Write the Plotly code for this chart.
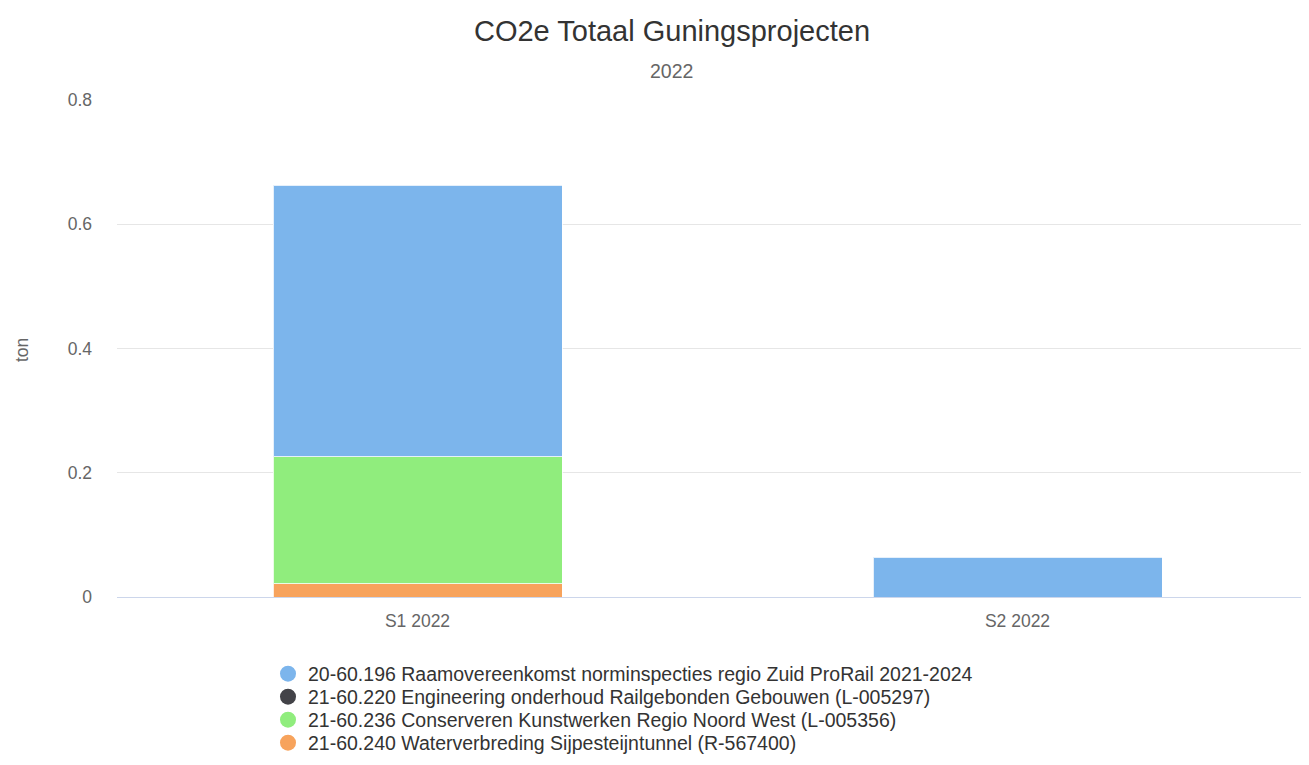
import plotly.graph_objects as go

categories = ["S1 2022", "S2 2022"]
series_names = [
    "20-60.196 Raamovereenkomst norminspecties regio Zuid ProRail 2021-2024",
    "21-60.220 Engineering onderhoud Railgebonden Gebouwen (L-005297)",
    "21-60.236 Conserveren Kunstwerken Regio Noord West (L-005356)",
    "21-60.240 Waterverbreding Sijpesteijntunnel (R-567400)",
]
series_values = [
    [0.437, 0.064],
    [0.0, 0.0],
    [0.205, 0.0],
    [0.021, 0.0],
]
colors = ["#7cb5ec", "#434348", "#90ed7d", "#f7a35c"]
y_ticks = [0, 0.2, 0.4, 0.6, 0.8]
y_tick_labels = ["0", "0.2", "0.4", "0.6", "0.8"]

# page has an 8px body margin; figure sized to fill the rest of the window
OFF = 8
W, H = 1309 - OFF, 765 - OFF
ML, MR, MT, MB = 117 - OFF, 0, 100 - OFF, 765 - 597
PW, PH = W - ML - MR, H - MT - MB
PLOT_BOTTOM = H - MB  # figure pixels


def py(page_y):
    """page pixel y -> paper y"""
    return (PLOT_BOTTOM - (page_y - OFF)) / PH


def px(page_x):
    """page pixel x -> paper x"""
    return ((page_x - OFF) - ML) / PW


# category spacing of the reference: 600 px per category, first centre at 417.5
cat_px = 600.0
x0 = -(417.5 - 117) / cat_px
x_range = [x0, x0 + PW / cat_px]

fig = go.Figure()
# stacked bars: bottom series drawn first
for name, vals, col in reversed(list(zip(series_names, series_values, colors))):
    fig.add_trace(go.Bar(
        x=categories, y=vals, name=name, marker_color=col,
        marker_line_color="rgba(255,255,255,0.8)", marker_line_width=1,
        showlegend=False,
    ))

legend_rows = [674, 697, 720, 743]
legend_layouts = {}
for i, (name, col) in enumerate(zip(series_names, colors)):
    key = "legend" if i == 0 else f"legend{i + 1}"
    fig.add_trace(go.Scatter(
        x=[None], y=[None], mode="markers", name=name,
        marker=dict(symbol="circle", size=16, color=col),
        showlegend=True, legend=key,
    ))
    legend_layouts[key] = dict(
        orientation="v", x=px(268), xanchor="left",
        y=py(legend_rows[i]), yanchor="middle",
        font=dict(size=19.5, color="#333333"),
        itemsizing="trace", bgcolor="rgba(0,0,0,0)",
    )

FONT = "Liberation Sans, Arial, sans-serif"
fig.update_layout(
    barmode="stack",
    bargap=1 - 289 / cat_px,
    width=W, height=H,
    paper_bgcolor="white", plot_bgcolor="white",
    margin=dict(l=ML, r=MR, t=MT, b=MB, autoexpand=False),
    font=dict(family=FONT, color="#666666", size=17.5),
    title=dict(
        text="CO2e Totaal Guningsprojecten",
        x=(672 - OFF) / W, xanchor="center", xref="container",
        y=1 - (31 - OFF) / H, yanchor="middle", yref="container",
        font=dict(size=29, color="#333333"),
    ),
    annotations=[
        dict(
            text="2022", xref="paper", yref="paper",
            x=px(671.5), y=py(71),
            showarrow=False, font=dict(size=19.5, color="#666666"),
            xanchor="center", yanchor="middle",
        ),
        dict(
            text="ton", xref="paper", yref="paper",
            x=px(22), y=py(350), textangle=-90,
            showarrow=False, font=dict(size=17.5, color="#666666"),
            xanchor="center", yanchor="middle",
        ),
    ],
    xaxis=dict(
        range=x_range,
        showgrid=False, showline=True, linecolor="#ccd6eb", linewidth=1,
        tickfont=dict(size=17.5, color="#666666"), ticks="",
        ticklabelstandoff=8, automargin=False,
    ),
    yaxis=dict(
        range=[0, 0.8], tickvals=y_ticks, ticktext=y_tick_labels,
        showgrid=True, gridcolor="#e6e6e6", gridwidth=1, zeroline=False,
        showline=False, tickfont=dict(size=17.5, color="#666666"),
        ticklabelstandoff=24, automargin=False,
    ),
    **legend_layouts,
)

fig.write_html("out.html")
